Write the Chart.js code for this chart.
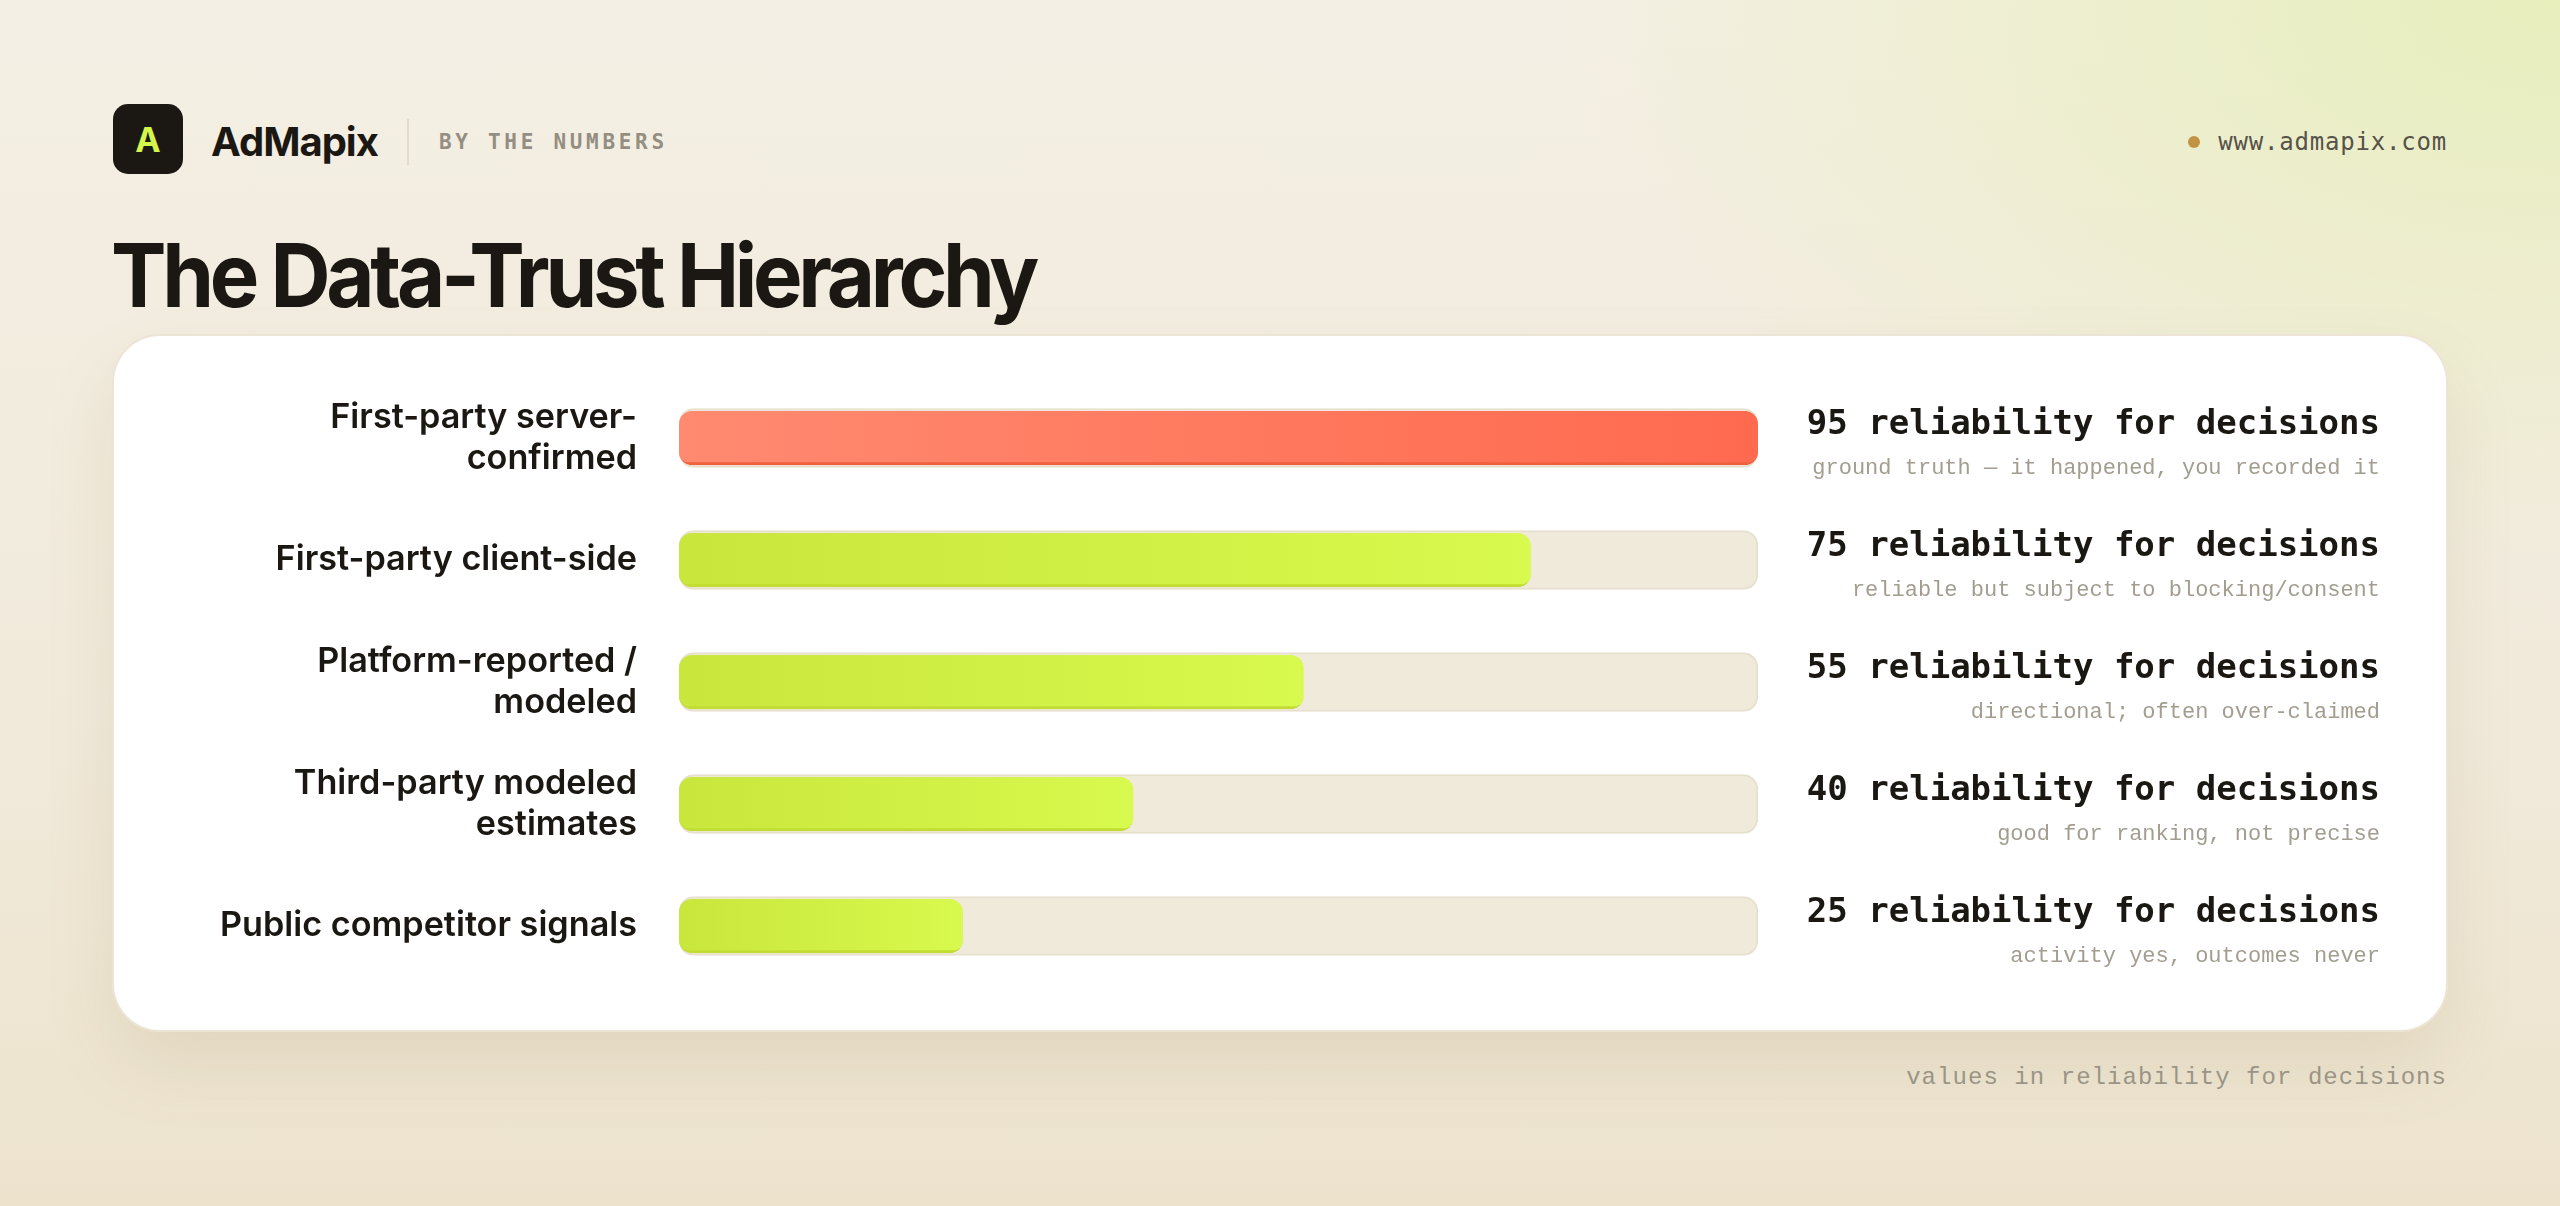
<!DOCTYPE html>
<html>
<head>
<meta charset="utf-8">
<script src="https://cdn.jsdelivr.net/npm/chart.js@4.4.1/dist/chart.umd.min.js"></script>
<style>
  html, body { margin:0; padding:0; }
  body {
    width:2560px; height:1206px; position:relative; overflow:hidden;
    background:
      radial-gradient(ellipse 1000px 560px at 2560px 0px, rgba(228,238,178,0.8), rgba(228,238,178,0) 100%),
      linear-gradient(180deg, #f4efe4 0%, #f1eadb 60%, #ede3cd 100%);
    font-family: Inter, "Noto Sans", sans-serif;
  }
  .logo { position:absolute; left:113px; top:104px; width:70px; height:70px; border-radius:15px; background:#1b1813;
    color:#d4f54a; font: 700 34px Inter, sans-serif; display:flex; align-items:center; justify-content:center; }
  .brand { position:absolute; left:211px; top:118px; font: 700 40px Inter, sans-serif; letter-spacing:-1px; color:#1b1813; line-height:48px; }
  .divider { position:absolute; left:407px; top:119px; width:2px; height:46px; background:#e3dccd; }
  .kicker { position:absolute; left:439px; top:128px; font: 700 21px "DejaVu Sans Mono", monospace; letter-spacing:3.7px; color:#948e82; line-height:28px; }
  .url { position:absolute; right:113px; top:127px; font: 400 24px "DejaVu Sans Mono", monospace; letter-spacing:0.8px; color:#57524a; line-height:30px; }
  .dot { position:absolute; left:2188px; top:136px; width:12px; height:12px; border-radius:50%; background:#c19342; }
  .title { position:absolute; left:111px; top:230px; font: 700 88px Inter, sans-serif; letter-spacing:-4.5px; color:#1b1813; line-height:90px; white-space:nowrap;
    transform: scaleX(0.945); transform-origin: 0 0; }
  .card { position:absolute; left:114px; top:336px; width:2332px; height:694px; background:#fff; border-radius:46px;
    box-shadow: 0 0 0 2px #ece5d6, 0 34px 70px rgba(140,115,60,0.13); }
  #chart { position:absolute; left:114px; top:336px; }
  .foot { position:absolute; right:113px; top:1063px; font: 400 24px "Liberation Mono", monospace; letter-spacing:1.05px; color:#9b9486; line-height:30px; }
</style>
</head>
<body>
<div class="logo">A</div>
<div class="brand">AdMapix</div>
<div class="divider"></div>
<div class="kicker">BY THE NUMBERS</div>
<div class="dot"></div>
<div class="url">www.admapix.com</div>
<div class="title">The Data-Trust Hierarchy</div>
<div class="card"></div>
<canvas id="chart" width="2332" height="694"></canvas>
<div class="foot">values in reliability for decisions</div>
<script>
// ---- data ----
const categories = [
  ["First-party server-", "confirmed"],
  "First-party client-side",
  ["Platform-reported /", "modeled"],
  ["Third-party modeled", "estimates"],
  "Public competitor signals"
];
const values = [95, 75, 55, 40, 25];
const trackValues = [95, 95, 95, 95, 95];
const scaleMax = 95;
const unitLabel = "reliability for decisions";
const notes = [
  "ground truth — it happened, you recorded it",
  "reliable but subject to blocking/consent",
  "directional; often over-claimed",
  "good for ranking, not precise",
  "activity yes, outcomes never"
];
const highlightIndex = 0;

// ---- styling ----
function barGradient(ctx) {
  const chart = ctx.chart;
  const area = chart.chartArea;
  const i = ctx.dataIndex;
  const hot = i === highlightIndex;
  if (!area || !chart.scales.x) return hot ? '#ff7a5e' : '#d0ec44';
  const x0 = area.left;
  const x1 = chart.scales.x.getPixelForValue(values[i]);
  const g = chart.ctx.createLinearGradient(x0, 0, x1, 0);
  if (hot) { g.addColorStop(0, '#ff8a70'); g.addColorStop(1, '#ff6a4f'); }
  else { g.addColorStop(0, '#c9e63c'); g.addColorStop(1, '#d8f94d'); }
  return g;
}

const rightLabels = {
  id: 'rightLabels',
  afterDatasetsDraw(chart) {
    const ctx = chart.ctx;
    const meta = chart.getDatasetMeta(0);
    const x = chart.width - 66;
    ctx.save();
    ctx.textAlign = 'right';
    ctx.textBaseline = 'middle';
    meta.data.forEach((el, i) => {
      ctx.fillStyle = '#1b1813';
      ctx.font = '700 34px "DejaVu Sans Mono", monospace';
      ctx.fillText(values[i] + ' ' + unitLabel, x, el.y - 13);
      ctx.fillStyle = '#a39d90';
      ctx.font = '400 22px "Liberation Mono", monospace';
      ctx.fillText(notes[i], x, el.y + 30);
    });
    ctx.restore();
  }
};

new Chart(document.getElementById('chart'), {
  type: 'bar',
  data: {
    labels: categories,
    datasets: [
      {
        label: unitLabel,
        data: values,
        order: 1,
        grouped: false,
        barThickness: 54,
        backgroundColor: barGradient,
        borderColor: (c) => c.dataIndex === highlightIndex ? '#f0603f' : '#c2dc33',
        borderWidth: { top: 0, left: 0, right: 0, bottom: 3 },
        borderRadius: 13,
        borderSkipped: false
      },
      {
        label: 'track',
        data: trackValues,
        order: 2,
        grouped: false,
        barThickness: 59,
        backgroundColor: '#f0eadb',
        borderColor: '#e7e0cd',
        borderWidth: 2,
        borderRadius: 15,
        borderSkipped: false
      }
    ]
  },
  options: {
    indexAxis: 'y',
    responsive: false,
    animation: false,
    layout: { padding: { left: 0, right: 688, top: 41, bottom: 43 } },
    scales: {
      x: { display: false, min: 0, max: scaleMax },
      y: {
        grid: { display: false, drawTicks: false },
        border: { display: false },
        ticks: {
          padding: 42,
          color: '#1b1813',
          font: { family: 'Inter, sans-serif', size: 34.2, weight: '600', lineHeight: 1.2 }
        },
        afterFit(s) { s.width = 565; s.paddingTop = 0; s.paddingBottom = 0; }
      }
    },
    plugins: { legend: { display: false }, tooltip: { enabled: false } }
  },
  plugins: [rightLabels]
});
</script>
</body>
</html>
